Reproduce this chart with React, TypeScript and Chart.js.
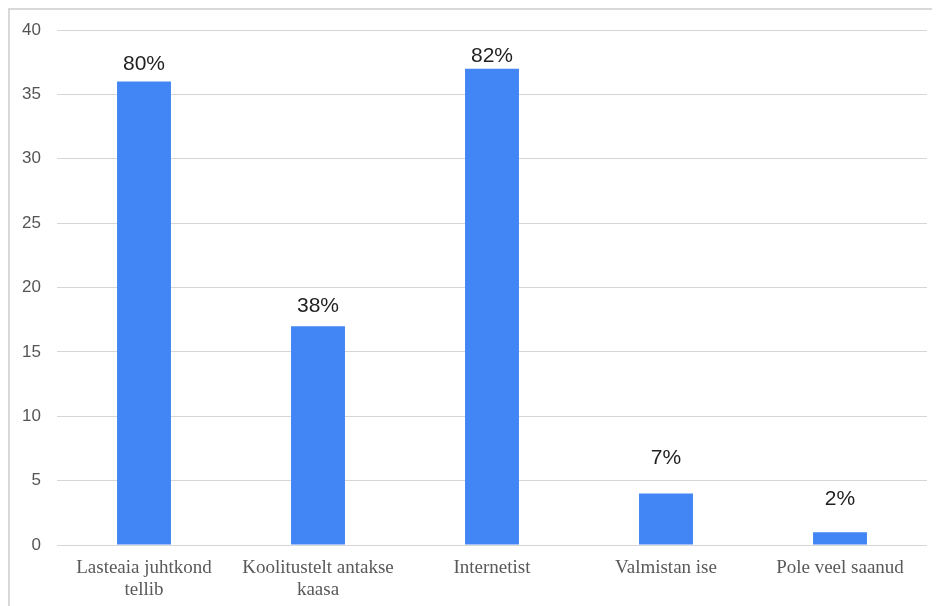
import React, { useEffect, useRef } from "react";
import { Chart, registerables } from "chart.js";

Chart.register(...registerables);

// Answer categories (multi-line where the label wraps)
const categories: string[][] = [
  ["Lasteaia juhtkond", "tellib"],
  ["Koolitustelt antakse", "kaasa"],
  ["Internetist"],
  ["Valmistan ise"],
  ["Pole veel saanud"],
];

// Number of respondents per answer
const counts: number[] = [36, 17, 37, 4, 1];

// Share of respondents shown above each bar
const shares: string[] = ["80%", "38%", "82%", "7%", "2%"];

// Y axis range
const yMin = 0;
const yMax = 40;
const yStep = 5;

// Gap (px) between each bar top and its share label
const labelGaps: number[] = [12, 14, 7, 30, 27];

const shareLabels = {
  id: "shareLabels",
  afterDatasetsDraw(chart: any) {
    const { ctx } = chart;
    const meta = chart.getDatasetMeta(0);
    ctx.save();
    ctx.font = '21px "Liberation Sans", Arial, sans-serif';
    ctx.fillStyle = "#1f1f1f";
    ctx.textAlign = "center";
    ctx.textBaseline = "alphabetic";
    meta.data.forEach((bar: any, i: number) => {
      ctx.fillText(shares[i], bar.x, bar.y - labelGaps[i]);
    });
    ctx.restore();
  },
};

export default function App() {
  const canvasRef = useRef<HTMLCanvasElement | null>(null);

  useEffect(() => {
    document.documentElement.style.overflow = "hidden";
    const canvas = canvasRef.current;
    if (!canvas) return;
    const chart = new Chart(canvas, {
      type: "bar",
      data: {
        labels: categories,
        datasets: [
          {
            data: counts,
            backgroundColor: "#4285f4",
            borderWidth: 0,
            barPercentage: 0.31,
            categoryPercentage: 1,
          },
        ],
      },
      options: {
        responsive: false,
        maintainAspectRatio: false,
        animation: false,
        layout: { padding: { top: 20, right: 13, bottom: 0, left: 0 } },
        plugins: {
          legend: { display: false },
          tooltip: { enabled: false },
        },
        scales: {
          x: {
            grid: { display: false, drawTicks: false },
            border: { display: false },
            ticks: {
              padding: 12,
              maxRotation: 0,
              autoSkip: false,
              color: "#595959",
              font: { family: '"Liberation Serif", "Times New Roman", serif', size: 19, lineHeight: 1.15 },
            },
            afterFit(scale: any) {
              scale.height = 53;
            },
          },
          y: {
            min: yMin,
            max: yMax,
            grid: { color: "#d6d6d6", lineWidth: 1, drawTicks: false },
            border: { display: false },
            ticks: {
              stepSize: yStep,
              padding: 16,
              color: "#555555",
              font: { family: '"Liberation Sans", Arial, sans-serif', size: 17 },
            },
            afterFit(scale: any) {
              scale.width = 47;
              // plot top/bottom come from the layout padding and x axis height
              scale.paddingTop = 0;
              scale.paddingBottom = 0;
            },
          },
        },
      },
      plugins: [shareLabels],
    });
    return () => chart.destroy();
  }, []);

  return (
    <div
      style={{
        borderTop: "2px solid #d9d9d9",
        borderLeft: "2px solid #d9d9d9",
        width: 940,
        height: 596,
      }}
    >
      <canvas ref={canvasRef} width={930} height={588} style={{ display: "block" }} />
    </div>
  );
}
